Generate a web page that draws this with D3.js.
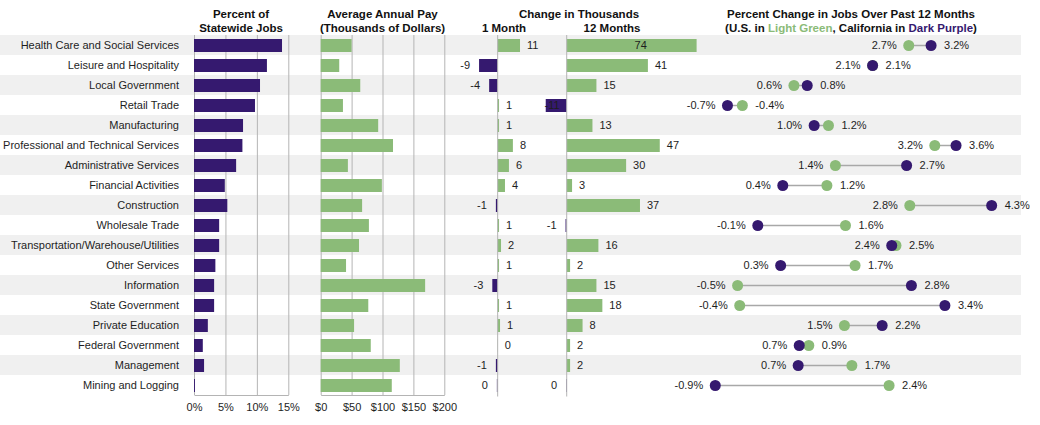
<!DOCTYPE html>
<html>
<head>
<meta charset="utf-8">
<script src="https://cdn.jsdelivr.net/npm/d3@7"></script>
<style>
  body { margin: 0; background: #fff; }
  svg { display: block; font-family: "Liberation Sans", Arial, sans-serif; }
</style>
</head>
<body>
<svg id="chart" width="1040" height="425"></svg>
<script>
// data
const industries = [
  "Health Care and Social Services", "Leisure and Hospitality", "Local Government",
  "Retail Trade", "Manufacturing", "Professional and Technical Services",
  "Administrative Services", "Financial Activities", "Construction", "Wholesale Trade",
  "Transportation/Warehouse/Utilities", "Other Services", "Information",
  "State Government", "Private Education", "Federal Government", "Management",
  "Mining and Logging"
];
const shareOfJobs = [14.0, 11.6, 10.5, 9.7, 7.8, 7.7, 6.7, 4.9, 5.3, 4.0, 4.0, 3.4, 3.2, 3.2, 2.2, 1.4, 1.6, 0.15];
const avgPay = [50, 30, 64, 36, 93, 117, 44, 99, 67, 78, 62, 41, 169, 77, 54, 81, 128, 115];
const change1Month = [11.3, -9.4, -4.3, 0.7, 0.7, 7.7, 5.7, 3.7, -0.9, 0.7, 1.7, 0.7, -2.7, 0.7, 1.2, 0.1, -0.9, -0.4];
const change12Months = [74, 41, 15, -10.6, 13, 47, 30, 2.7, 37, -0.6, 16, 1.7, 15, 18, 8, 1.7, 1.7, -0.3];
const usPctChange = [2.74, 2.06, 0.58, -0.39, 1.23, 3.23, 1.36, 1.20, 2.76, 1.55, 2.50, 1.73, -0.48, -0.44, 1.53, 0.86, 1.67, 2.37];
const caPctChange = [3.16, 2.06, 0.83, -0.67, 0.96, 3.63, 2.70, 0.37, 4.30, -0.10, 2.42, 0.33, 2.79, 3.42, 2.24, 0.68, 0.66, -0.90];
const shareTicks = [0, 5, 10, 15];
const payTicks = [0, 50, 100, 150, 200];

const purple = "#35196f";
const green = "#8bbb78";
const gridColor = "#b4b4b4";
const textColor = "#1e1e1e";

const rows = industries.map((name, i) => ({
  name, i,
  share: shareOfJobs[i], pay: avgPay[i],
  m1: change1Month[i], m12: change12Months[i],
  us: usPctChange[i], ca: caPctChange[i]
}));

const svg = d3.select("#chart");
const plotTop = 35, plotBottom = 395;

const y = d3.scaleBand().domain(industries).range([plotTop, plotBottom]);
const xShare = d3.scaleLinear().domain([0, 15]).range([194, 288.3]);
const xPay = d3.scaleLinear().domain([0, 200]).range([320.7, 444.3]);
const x1m = d3.scaleLinear().domain([-25, 35]).range([448.2, 566.9]);
const x12m = d3.scaleLinear().domain([-14, 65.6]).range([539, 696.6]).clamp(true);
const xPct = d3.scaleLinear().domain([-1, 4.5]).range([709.95, 1002.3]);

const barH = 13, barOff = 4;

// row stripes
svg.append("g").selectAll("rect")
  .data(rows.filter(d => d.i % 2 === 0))
  .enter().append("rect")
  .attr("x", 0).attr("width", 1021)
  .attr("y", d => y(d.name)).attr("height", y.bandwidth())
  .attr("fill", "#f0f0f0");

// headers
const head = svg.append("g")
  .style("font-size", "11.5px").style("font-weight", "bold")
  .attr("fill", "#111").attr("text-anchor", "middle");

head.append("text").attr("x", 241).attr("y", 17.5).text("Percent of");
head.append("text").attr("x", 241).attr("y", 32).text("Statewide Jobs");
head.append("text").attr("x", 382.5).attr("y", 17.5).text("Average Annual Pay");
head.append("text").attr("x", 382.5).attr("y", 32).text("(Thousands of Dollars)");
head.append("text").attr("x", 579).attr("y", 17.5).text("Change in Thousands");
head.append("text").attr("x", 504).attr("y", 32).text("1 Month");
head.append("text").attr("x", 612).attr("y", 32).text("12 Months");
head.append("text").attr("x", 851).attr("y", 17.5).text("Percent Change in Jobs Over Past 12 Months");
const legend = head.append("text").attr("x", 851).attr("y", 32);
legend.append("tspan").text("(U.S. in ");
legend.append("tspan").attr("fill", green).text("Light Green");
legend.append("tspan").text(", California in ");
legend.append("tspan").attr("fill", purple).text("Dark Purple");
legend.append("tspan").text(")");

// category names
svg.append("g").selectAll("text")
  .data(rows).enter().append("text")
  .attr("x", 179)
  .attr("y", d => y(d.name) + y.bandwidth() / 2)
  .attr("dy", "0.36em")
  .attr("text-anchor", "end")
  .style("font-size", "11px")
  .attr("fill", textColor)
  .text(d => d.name);

// axes with full-height gridlines, drawn behind bars
function gridAxis(scale, ticks, fmt) {
  const ax = svg.append("g")
    .attr("transform", `translate(0,${plotBottom})`)
    .call(d3.axisBottom(scale).tickValues(ticks).tickFormat(fmt)
      .tickSize(-(plotBottom - plotTop)).tickSizeOuter(0).tickPadding(8));
  ax.selectAll("line").attr("stroke", gridColor);
  ax.select(".domain").attr("stroke", gridColor);
  ax.selectAll("text")
    .style("font-size", "11px")
    .style("font-family", "\"Liberation Sans\", Arial, sans-serif")
    .attr("fill", textColor);
}
gridAxis(xShare, shareTicks, d => d + "%");
gridAxis(xPay, payTicks, d => "$" + d);

// percent of statewide jobs
svg.append("g").selectAll("rect")
  .data(rows).enter().append("rect")
  .attr("x", xShare(0))
  .attr("y", d => y(d.name) + barOff)
  .attr("width", d => xShare(d.share) - xShare(0))
  .attr("height", barH)
  .attr("fill", purple);

// average annual pay
svg.append("g").selectAll("rect")
  .data(rows).enter().append("rect")
  .attr("x", xPay(0))
  .attr("y", d => y(d.name) + barOff)
  .attr("width", d => xPay(d.pay) - xPay(0))
  .attr("height", barH)
  .attr("fill", green);

// change in thousands, two panels on a shared unit
function changePanel(scale, key) {
  const g = svg.append("g");
  const hi = scale.domain()[1];
  const left = scale.range()[0];

  g.selectAll("rect")
    .data(rows).enter().append("rect")
    .attr("x", d => scale(Math.min(0, d[key])))
    .attr("y", d => y(d.name) + barOff)
    .attr("width", d => Math.abs(scale(d[key]) - scale(0)))
    .attr("height", barH)
    .attr("fill", d => d[key] < 0 ? purple : green);

  g.append("line")
    .attr("x1", scale(0)).attr("x2", scale(0))
    .attr("y1", plotTop).attr("y2", plotBottom + 1.5)
    .attr("stroke", gridColor);

  g.selectAll("text")
    .data(rows).enter().append("text")
    .attr("y", d => y(d.name) + y.bandwidth() / 2)
    .attr("dy", "0.36em")
    .style("font-size", "11px")
    .attr("fill", textColor)
    .each(function(d) {
      const v = d[key];
      const label = String(Math.round(v));
      const t = d3.select(this).text(label);
      if (v > hi) {
        t.attr("text-anchor", "middle").attr("x", (scale(0) + scale(v)) / 2 + 9);
      } else if (v < 0) {
        let x = scale(v) - 9;
        if (x - label.length * 6.1 < left) x = scale(0) - 7;
        t.attr("text-anchor", "end").attr("x", x);
      } else {
        t.attr("text-anchor", "start").attr("x", scale(v) + 7);
      }
    });
}
changePanel(x1m, "m1");
changePanel(x12m, "m12");

// percent change dumbbells
const fmtPct = v => v.toFixed(1) + "%";
const dumb = svg.append("g");
const cy = d => y(d.name) + y.bandwidth() / 2 + 0.5;

dumb.selectAll("line")
  .data(rows).enter().append("line")
  .attr("x1", d => xPct(d.us)).attr("x2", d => xPct(d.ca))
  .attr("y1", cy).attr("y2", cy)
  .attr("stroke", "#a8a8a8").attr("stroke-width", 1.5);

dumb.selectAll(".us")
  .data(rows).enter().append("circle")
  .attr("class", "us")
  .attr("cx", d => xPct(d.us)).attr("cy", cy).attr("r", 5.5)
  .attr("fill", green);

dumb.selectAll(".ca")
  .data(rows).enter().append("circle")
  .attr("class", "ca")
  .attr("cx", d => xPct(d.ca)).attr("cy", cy).attr("r", 5.5)
  .attr("fill", purple);

dumb.selectAll(".lo")
  .data(rows).enter().append("text")
  .attr("class", "lo")
  .attr("x", d => xPct(Math.min(d.us, d.ca)) - 12)
  .attr("y", d => y(d.name) + y.bandwidth() / 2)
  .attr("dy", "0.36em")
  .attr("text-anchor", "end")
  .style("font-size", "11px")
  .attr("fill", textColor)
  .text(d => fmtPct(Math.min(d.us, d.ca)));

dumb.selectAll(".hi")
  .data(rows).enter().append("text")
  .attr("class", "hi")
  .attr("x", d => xPct(Math.max(d.us, d.ca)) + 13)
  .attr("y", d => y(d.name) + y.bandwidth() / 2)
  .attr("dy", "0.36em")
  .attr("text-anchor", "start")
  .style("font-size", "11px")
  .attr("fill", textColor)
  .text(d => fmtPct(Math.max(d.us, d.ca)));
</script>
</body>
</html>
